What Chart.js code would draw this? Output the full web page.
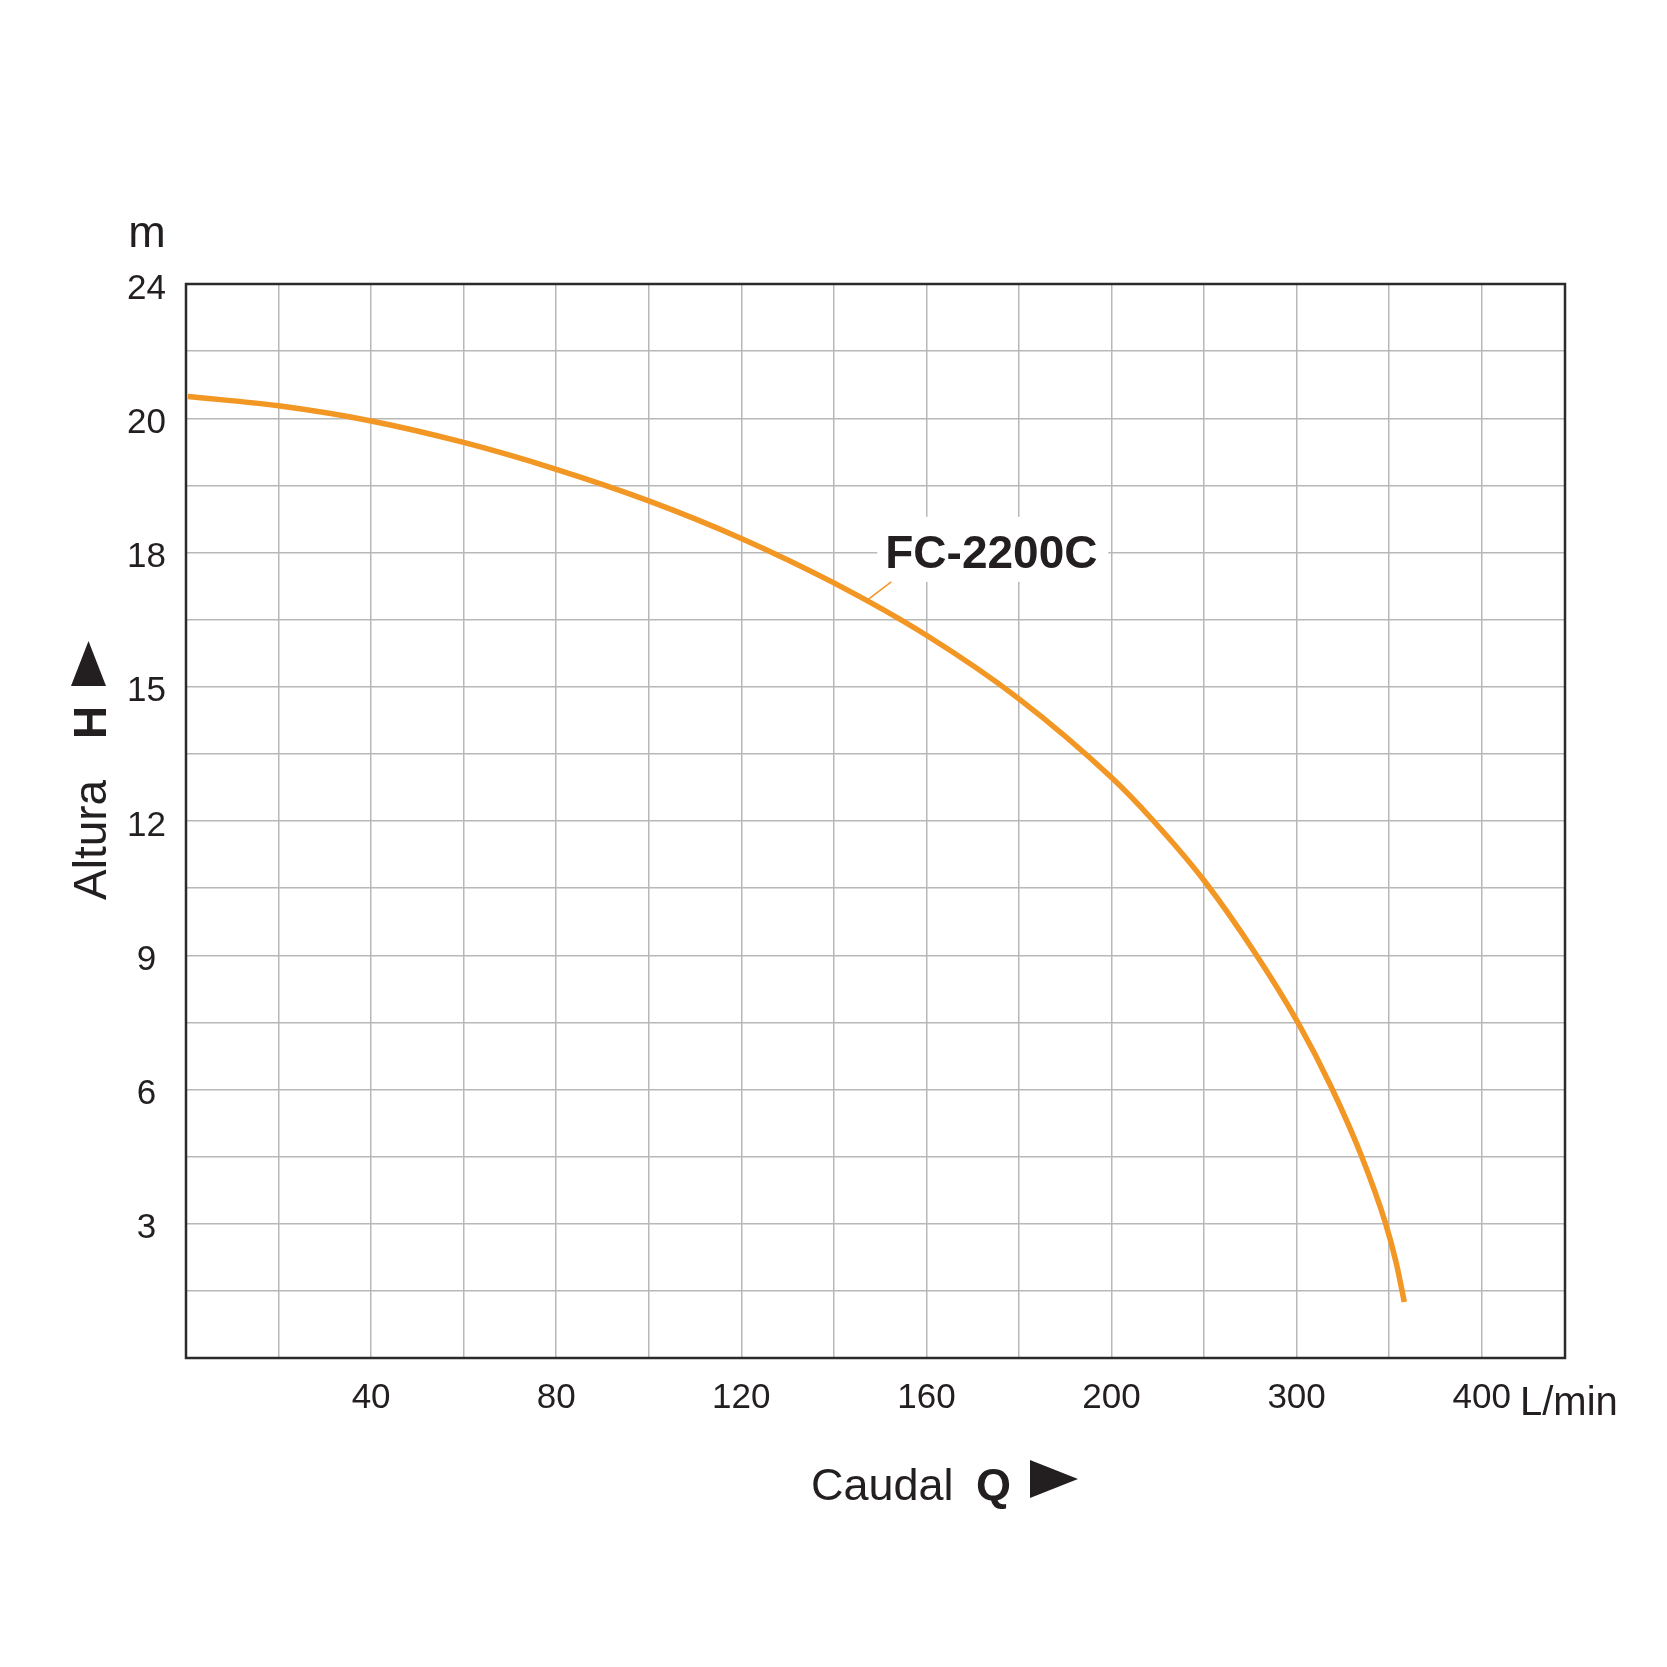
<!DOCTYPE html>
<html>
<head>
<meta charset="utf-8">
<title>FC-2200C</title>
<script src="https://cdn.jsdelivr.net/npm/chart.js@4.4.1/dist/chart.umd.min.js"></script>
<style>
    html, body { margin: 0; padding: 0; background: #fff; }
    #wrap { width: 1667px; height: 1667px; }
</style>
</head>
<body>
<div id="wrap"><canvas id="pumpChart" width="1667" height="1667"></canvas></div>
<script>
// Grid lines of the original sheet: evenly spaced lines, uneven values
const qGrid = [0, 20, 40, 60, 80, 100, 120, 140, 160, 180, 200, 250, 300, 350, 400];
const qLabels = [40, 80, 120, 160, 200, 300, 400];
const qMax = 445;
const hGrid = [0, 1.5, 3, 4.5, 6, 7.5, 9, 10.5, 12, 13.5, 15, 16.5, 18, 19, 20, 22, 24];
const hLabels = [3, 6, 9, 12, 15, 18, 20, 24];

// FC-2200C curve (Q in L/min, H in m)
const flowQ = [0.4, 20, 40, 60, 80, 100, 120, 140, 160, 180, 200, 221.6, 250, 277.1, 300.5, 318.9, 335, 347.9, 353.9, 358.2];
const headH = [20.65, 20.37, 19.96, 19.64, 19.24, 18.77, 18.21, 17.32, 16.15, 14.73, 12.97, 12.05, 10.67, 9.08, 7.51, 6.04, 4.52, 3.03, 2.11, 1.25];

const modelName = 'FC-2200C';
const labelQ = 147;
const labelH = 16.92;

const ink = '#231f20';
const family = '"Liberation Sans", Arial, Helvetica, sans-serif';

// value -> position on the evenly spaced grid
function toPos(v, grid) {
    for (let i = 1; i < grid.length; i++) {
        if (v <= grid[i]) return i - 1 + (v - grid[i - 1]) / (grid[i] - grid[i - 1]);
    }
    const n = grid.length - 1;
    return n + (v - grid[n]) / (grid[n] - grid[n - 1]);
}

const points = flowQ.map((q, i) => ({ x: toPos(q, qGrid), y: toPos(headH[i], hGrid) }));

const decorations = {
    id: 'decorations',
    beforeDatasetsDraw(chart) {
        const { ctx, chartArea: a } = chart;
        ctx.save();
        ctx.strokeStyle = '#2b2b2b';
        ctx.lineWidth = 2.5;
        ctx.strokeRect(a.left, a.top, a.right - a.left, a.bottom - a.top);
        ctx.restore();
    },
    afterDraw(chart) {
        const { ctx, chartArea: a } = chart;
        const sx = chart.scales.x, sy = chart.scales.y;
        ctx.save();
        ctx.fillStyle = ink;

        // unit labels
        ctx.font = '45px ' + family;
        ctx.textAlign = 'center';
        ctx.textBaseline = 'alphabetic';
        ctx.fillText('m', a.left - 39, a.top - 37);
        ctx.font = '40px ' + family;
        ctx.textAlign = 'left';
        ctx.fillText('L/min', a.right - 45, a.bottom + 57);

        // x title: Caudal Q ►
        ctx.font = '45px ' + family;
        ctx.fillText('Caudal', a.left + 625, a.bottom + 142);
        ctx.font = 'bold 45px ' + family;
        ctx.fillText('Q', a.left + 790, a.bottom + 142);
        ctx.beginPath();
        ctx.moveTo(a.left + 844, a.bottom + 102);
        ctx.lineTo(a.left + 892, a.bottom + 121);
        ctx.lineTo(a.left + 844, a.bottom + 140);
        ctx.closePath();
        ctx.fill();

        // y title: Altura H ▲ (rotated)
        ctx.translate(a.left - 80, a.top + 616);
        ctx.rotate(-Math.PI / 2);
        ctx.font = '46px ' + family;
        ctx.fillText('Altura', 0, 0);
        ctx.font = 'bold 46px ' + family;
        ctx.fillText('H', 161, 0);
        ctx.beginPath();
        ctx.moveTo(214, 0);
        ctx.lineTo(259, -17.5);
        ctx.lineTo(214, -35);
        ctx.closePath();
        ctx.fill();
        ctx.restore();

        // curve label with leader
        const px = sx.getPixelForValue(toPos(labelQ, qGrid));
        const py = sy.getPixelForValue(toPos(labelH, hGrid));
        ctx.save();
        ctx.fillStyle = '#fff';
        ctx.fillRect(px + 11, py - 84, 231, 65);
        ctx.strokeStyle = '#f29624';
        ctx.lineWidth = 1.5;
        ctx.beginPath();
        ctx.moveTo(px, py);
        ctx.lineTo(px + 25, py - 19);
        ctx.stroke();
        ctx.fillStyle = ink;
        ctx.font = 'bold 46px ' + family;
        ctx.textAlign = 'left';
        ctx.fillText(modelName, px + 19, py - 33);
        ctx.restore();
    }
};

const gridStyle = { color: '#b8b8b8', lineWidth: 1.5, drawTicks: false };
const tickFont = { family: family, size: 35 };

new Chart(document.getElementById('pumpChart'), {
    type: 'line',
    data: {
        datasets: [{
            label: modelName,
            data: points,
            borderColor: '#f29624',
            borderWidth: 5.5,
            pointRadius: 0,
            fill: false,
            cubicInterpolationMode: 'monotone'
        }]
    },
    options: {
        responsive: false,
        animation: false,
        devicePixelRatio: 1,
        layout: { padding: { top: 284, right: 102, left: 0, bottom: 0 } },
        scales: {
            x: {
                type: 'linear',
                min: 0,
                max: toPos(qMax, qGrid),
                afterBuildTicks: (s) => { s.ticks = qGrid.map((q, i) => ({ value: i })); },
                afterFit: (s) => { s.height = 309; },
                grid: gridStyle,
                border: { display: false },
                ticks: {
                    autoSkip: false,
                    maxRotation: 0,
                    padding: 19,
                    color: ink,
                    font: tickFont,
                    callback: (v) => qLabels.includes(qGrid[v]) ? String(qGrid[v]) : ''
                }
            },
            y: {
                type: 'linear',
                min: 0,
                max: hGrid.length - 1,
                afterBuildTicks: (s) => { s.ticks = hGrid.map((h, i) => ({ value: i })); },
                afterFit: (s) => { s.width = 186; },
                grid: gridStyle,
                border: { display: false },
                ticks: {
                    autoSkip: false,
                    padding: 20,
                    labelOffset: 5,
                    crossAlign: 'center',
                    color: ink,
                    font: tickFont,
                    callback: (v) => hLabels.includes(hGrid[v]) ? String(hGrid[v]) : ''
                }
            }
        },
        plugins: {
            legend: { display: false },
            tooltip: { enabled: false }
        }
    },
    plugins: [decorations]
});
</script>
</body>
</html>
